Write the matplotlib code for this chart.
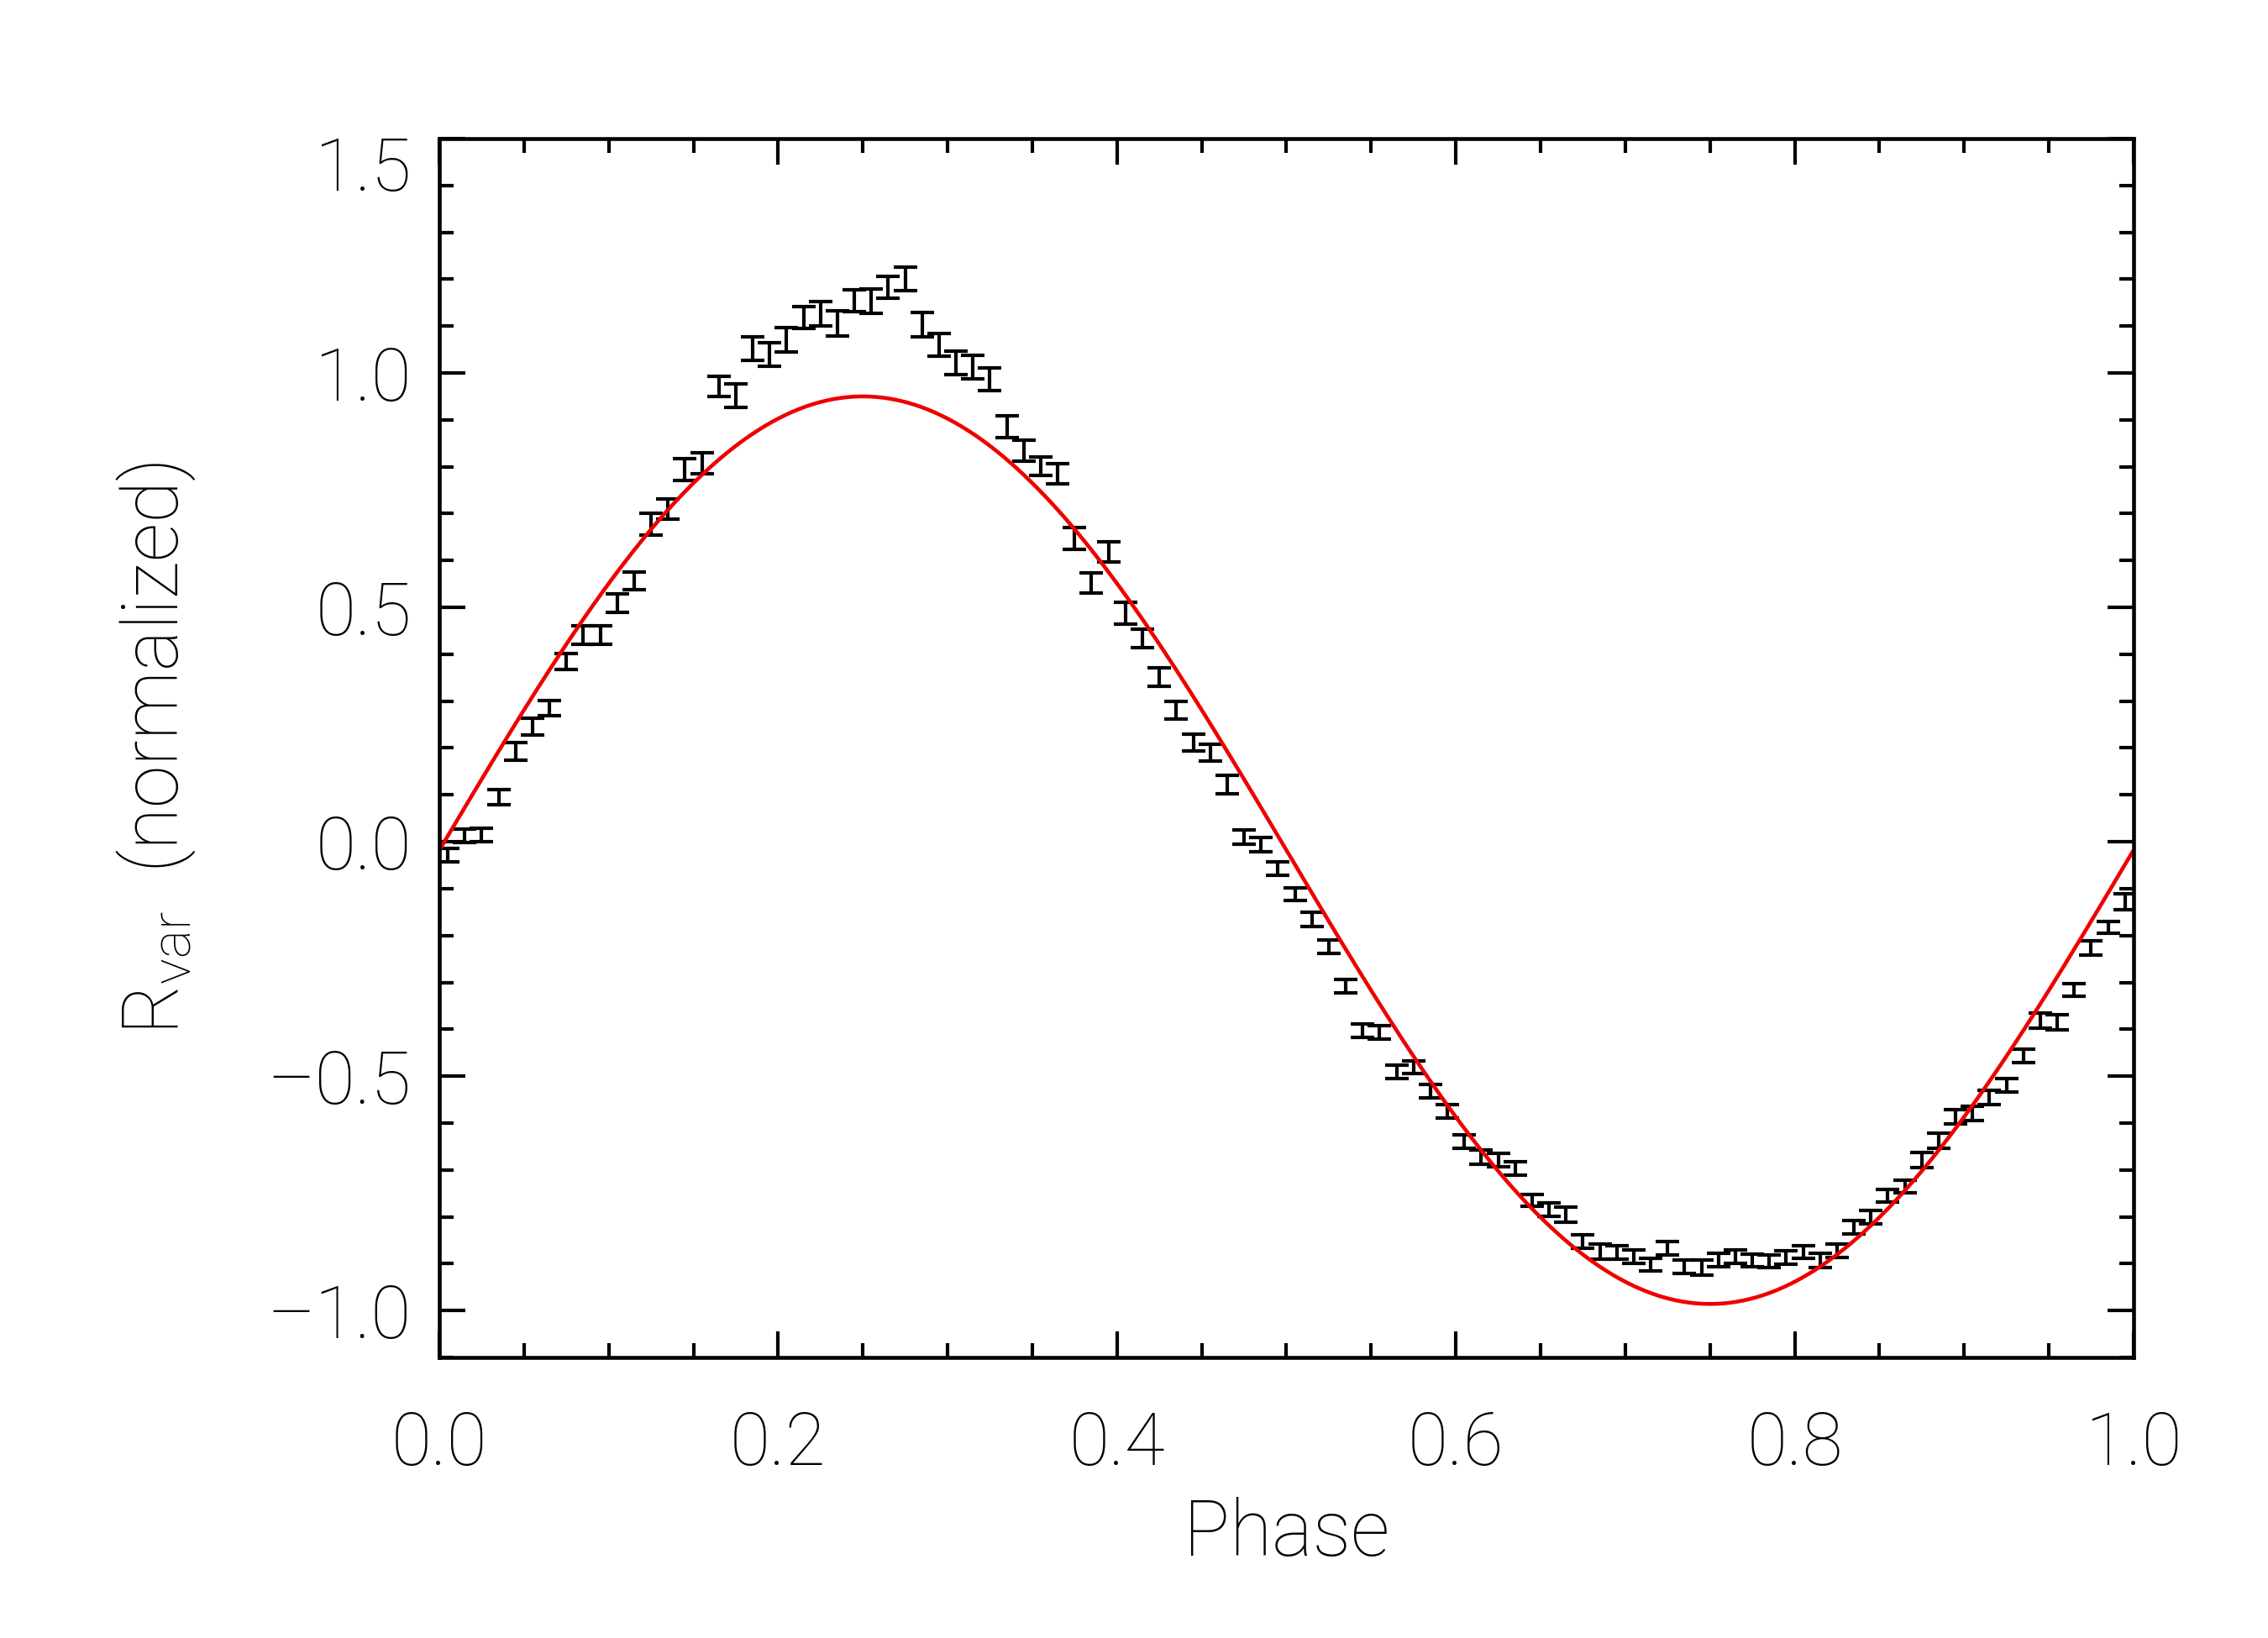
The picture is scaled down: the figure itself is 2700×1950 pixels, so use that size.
import numpy as np
import matplotlib
matplotlib.use("Agg")
import matplotlib.pyplot as plt
from matplotlib.ticker import MultipleLocator
import matplotlib.transforms as mtransforms

plt.rcParams["font.family"] = ["Roboto", "DejaVu Sans"]
plt.rcParams["font.weight"] = "light"
plt.rcParams["axes.labelweight"] = "light"
plt.rcParams["mathtext.fontset"] = "custom"
plt.rcParams["mathtext.rm"] = "Roboto:light"

# binned phase curve (100 bins)
phase = np.arange(100) * 0.01 + 0.005
r_var = [
    -0.029, 0.013, 0.015, 0.095, 0.193, 0.246, 0.285, 0.385, 0.441, 0.441,
    0.509, 0.556, 0.678, 0.710, 0.794, 0.807, 0.971, 0.952, 1.052, 1.040,
    1.070, 1.118, 1.127, 1.106, 1.154, 1.154, 1.183, 1.200, 1.103, 1.060,
    1.022, 1.012, 0.986, 0.885, 0.834, 0.801, 0.785, 0.647, 0.552, 0.618,
    0.487, 0.434, 0.351, 0.280, 0.212, 0.190, 0.122, 0.010, -0.006, -0.057,
    -0.112, -0.166, -0.224, -0.308, -0.403, -0.407, -0.491, -0.481, -0.532, -0.575,
    -0.640, -0.673, -0.679, -0.697, -0.765, -0.785, -0.795, -0.853, -0.875, -0.876,
    -0.885, -0.902, -0.867, -0.906, -0.909, -0.892, -0.885, -0.893, -0.895, -0.887,
    -0.875, -0.893, -0.873, -0.822, -0.801, -0.755, -0.735, -0.679, -0.638, -0.587,
    -0.579, -0.545, -0.519, -0.457, -0.382, -0.385, -0.316, -0.227, -0.183, -0.128,
]
r_err = [
    0.014, 0.014, 0.014, 0.016, 0.019, 0.018, 0.016, 0.017, 0.019, 0.020,
    0.019, 0.019, 0.023, 0.021, 0.023, 0.022, 0.021, 0.025, 0.025, 0.025,
    0.026, 0.023, 0.026, 0.027, 0.024, 0.026, 0.023, 0.025, 0.026, 0.025,
    0.025, 0.025, 0.024, 0.023, 0.022, 0.020, 0.021, 0.023, 0.022, 0.022,
    0.023, 0.020, 0.020, 0.019, 0.018, 0.018, 0.020, 0.015, 0.015, 0.015,
    0.014, 0.015, 0.015, 0.015, 0.014, 0.014, 0.014, 0.014, 0.015, 0.014,
    0.014, 0.015, 0.014, 0.015, 0.013, 0.014, 0.016, 0.014, 0.016, 0.014,
    0.014, 0.014, 0.015, 0.014, 0.016, 0.014, 0.014, 0.014, 0.014, 0.014,
    0.013, 0.015, 0.014, 0.014, 0.015, 0.013, 0.013, 0.016, 0.016, 0.015,
    0.015, 0.015, 0.014, 0.015, 0.016, 0.016, 0.014, 0.015, 0.013, 0.017,
]

# sinusoidal model
model_amp = 0.968
model_offset = -0.018
model_phase = np.linspace(0, 1, 500)
model_r = model_amp * np.sin(2 * np.pi * model_phase) + model_offset

fig = plt.figure(figsize=(9, 6.5), dpi=300)
ax = fig.add_axes([0.1937, 0.1713, 0.7470, 0.7441])

ax.errorbar(phase, r_var, yerr=r_err, fmt="none", ecolor="black",
            elinewidth=1.0, capsize=3.4, capthick=1.0)
ax.plot(model_phase, model_r, color="#ee0000", lw=1.1)

ax.set_xlim(0, 1)
ax.set_ylim(-1.1, 1.5)
ax.set_xticks([0.0, 0.2, 0.4, 0.6, 0.8, 1.0])
ax.set_yticks([-1.0, -0.5, 0.0, 0.5, 1.0, 1.5])
ax.xaxis.set_minor_locator(MultipleLocator(0.05))
ax.yaxis.set_minor_locator(MultipleLocator(0.1))
ax.set_xticklabels(["0.0", "0.2", "0.4", "0.6", "0.8", "1.0"])
ax.set_yticklabels(["\u20131.0", "\u20130.5", "0.0", "0.5", "1.0", "1.5"])

ax.tick_params(which="both", direction="in", top=True, right=True,
               width=1.0, labelsize=21)
ax.tick_params(which="major", length=7.5)
ax.tick_params(which="minor", length=4)
ax.tick_params(axis="x", pad=15)
ax.tick_params(axis="y", pad=8)
for s in ax.spines.values():
    s.set_linewidth(1.1)

# IDL keeps the top label inside the box
top_lab = ax.get_yticklabels()[-1]
top_lab.set_transform(top_lab.get_transform() +
                      mtransforms.ScaledTranslation(0, -7 / 72, fig.dpi_scale_trans))

ax.set_xlabel("Phase", fontsize=22, labelpad=5)
ax.set_ylabel(r"R$_{\mathrm{var}}$  (normalized)", fontsize=22, labelpad=20)

fig.savefig("out.png", dpi=300)
